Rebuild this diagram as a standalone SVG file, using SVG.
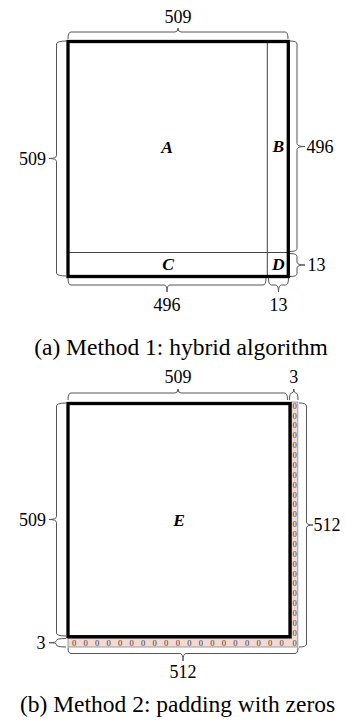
<svg xmlns="http://www.w3.org/2000/svg" width="346" height="724" viewBox="0 0 346 724" font-family="Liberation Serif">
<style>
.thick{fill:none;stroke:#000;stroke-width:3.3}
.thin{fill:none;stroke:#444;stroke-width:1}
.brace{fill:none;stroke:#555;stroke-width:1}
.num{font-size:18px;fill:#000}
.lab{font-size:17.5px;font-weight:bold;font-style:italic;fill:#000;text-anchor:middle}
.cap{font-size:23.5px;fill:#000;text-anchor:middle}
.z{font-size:8.5px;fill:#3a3a3a;text-anchor:middle}
.pad{fill:#f3d9d2;stroke:#888;stroke-width:0.8}
</style>
<rect width="346" height="724" fill="#fff"/>
<!-- Method 1 -->
<g id="A"><text class="lab" x="167" y="153" font-family="Liberation Serif">A</text></g>
<g id="B"><line class="thin" x1="267.3" y1="41.5" x2="267.3" y2="276.5"/><text class="lab" x="278.3" y="152" font-family="Liberation Serif">B</text></g>
<g id="C"><line class="thin" x1="68" y1="252.5" x2="288.3" y2="252.5"/><text class="lab" x="168" y="270" font-family="Liberation Serif">C</text></g>
<g id="D"><text class="lab" x="278.3" y="269.5" font-family="Liberation Serif">D</text></g>
<g id="matrix1"><rect class="thick" x="68" y="41.5" width="220.3" height="235"/></g>
<!-- Method 2 -->
<g id="padding">
<path class="pad" d="M291.5,402 H297.8 V647 H68 V638.5 H291.5 Z"/>
<g id="zeros" font-family="Liberation Serif">
<text class="z" x="74" y="645.6">0</text><text class="z" x="85.5" y="645.6">0</text><text class="z" x="97.1" y="645.6">0</text><text class="z" x="108.6" y="645.6">0</text><text class="z" x="120.1" y="645.6">0</text><text class="z" x="131.7" y="645.6">0</text><text class="z" x="143.2" y="645.6">0</text><text class="z" x="154.7" y="645.6">0</text><text class="z" x="166.2" y="645.6">0</text><text class="z" x="177.8" y="645.6">0</text><text class="z" x="189.3" y="645.6">0</text><text class="z" x="200.8" y="645.6">0</text><text class="z" x="212.4" y="645.6">0</text><text class="z" x="223.9" y="645.6">0</text><text class="z" x="235.4" y="645.6">0</text><text class="z" x="247" y="645.6">0</text><text class="z" x="258.5" y="645.6">0</text><text class="z" x="270" y="645.6">0</text><text class="z" x="281.5" y="645.6">0</text><text class="z" x="294.6" y="645.6">0</text>
<text class="z" x="294.6" y="635.7">0</text><text class="z" x="294.6" y="625.8">0</text><text class="z" x="294.6" y="616">0</text><text class="z" x="294.6" y="606.1">0</text><text class="z" x="294.6" y="596.2">0</text><text class="z" x="294.6" y="586.3">0</text><text class="z" x="294.6" y="576.5">0</text><text class="z" x="294.6" y="566.6">0</text><text class="z" x="294.6" y="556.7">0</text><text class="z" x="294.6" y="546.8">0</text><text class="z" x="294.6" y="537">0</text><text class="z" x="294.6" y="527.1">0</text><text class="z" x="294.6" y="517.2">0</text><text class="z" x="294.6" y="507.3">0</text><text class="z" x="294.6" y="497.5">0</text><text class="z" x="294.6" y="487.6">0</text><text class="z" x="294.6" y="477.7">0</text><text class="z" x="294.6" y="467.8">0</text><text class="z" x="294.6" y="458">0</text><text class="z" x="294.6" y="448.1">0</text><text class="z" x="294.6" y="438.2">0</text><text class="z" x="294.6" y="428.3">0</text><text class="z" x="294.6" y="418.5">0</text><text class="z" x="294.6" y="408.6">0</text>
</g>
</g>
<g id="E"><rect class="thick" x="68" y="403.5" width="222" height="233.2"/><text class="lab" x="179" y="526" font-family="Liberation Serif">E</text></g>
<!-- braces -->
<g id="connectors">
<path class="brace" d="M68,39 Q68,32 71,32 H175 Q178,32 178,28 Q178,32 181,32 H285 Q288,32 288,39"/>
<path class="brace" d="M67,41 Q56.5,41 56.5,44 V155.5 Q56.5,158.5 49,158.5 Q56.5,158.5 56.5,161.5 V273 Q56.5,276 67,276"/>
<path class="brace" d="M290,41 Q297,41 297,44 V143.5 Q297,146.5 305,146.5 Q297,146.5 297,149.5 V248.5 Q297,251.5 290,251.5"/>
<path class="brace" d="M290,253.5 Q297,253.5 297,256.5 V262 Q297,265 305,265 Q297,265 297,268 V273.5 Q297,276.5 290,276.5"/>
<path class="brace" d="M68,278 Q68,285 71,285 H164 Q167,285 167,292 Q167,285 170,285 H263 Q266,285 266,278"/>
<path class="brace" d="M268.5,278 Q268.5,285 271.5,285 H275.5 Q278.5,285 278.5,292 Q278.5,285 281.5,285 H285.5 Q288.5,285 288.5,278"/>
<path class="brace" d="M68,400 Q68,393 71,393 H175 Q178,393 178,389 Q178,393 181,393 H284.5 Q287.5,393 287.5,400"/>
<path class="brace" d="M289.5,400 Q289.5,393 291.5,393 H291.8 Q293.8,393 293.8,389 Q293.8,393 295.8,393 H296 Q298,393 298,400"/>
<path class="brace" d="M66,403 Q56.5,403 56.5,406 V516.5 Q56.5,519.5 49,519.5 Q56.5,519.5 56.5,522.5 V633 Q56.5,636 66,636"/>
<path class="brace" d="M66,638.5 Q56.5,638.5 56.5,640.5 V640.7 Q56.5,642.7 49,642.7 Q56.5,642.7 56.5,644.7 V645 Q56.5,647 66,647"/>
<path class="brace" d="M299,403 Q306.5,403 306.5,406 V522 Q306.5,525 313,525 Q306.5,525 306.5,528 V644 Q306.5,647 299,647"/>
<path class="brace" d="M68,647.5 Q68,653.5 71,653.5 H180 Q183,653.5 183,661 Q183,653.5 186,653.5 H295 Q298,653.5 298,647.5"/>
</g>
<g id="labels" font-family="Liberation Serif">
<text class="num" x="178" y="23" text-anchor="middle">509</text>
<text class="num" x="46" y="164.5" text-anchor="end">509</text>
<text class="num" x="306.5" y="152.5">496</text>
<text class="num" x="307.5" y="270.5">13</text>
<text class="num" x="167" y="310.5" text-anchor="middle">496</text>
<text class="num" x="278.5" y="310.5" text-anchor="middle">13</text>
<text class="cap" x="181" y="355">(a) Method 1: hybrid algorithm</text>
<text class="num" x="178" y="383" text-anchor="middle">509</text>
<text class="num" x="293.8" y="383" text-anchor="middle">3</text>
<text class="num" x="46" y="526" text-anchor="end">509</text>
<text class="num" x="45.5" y="648.5" text-anchor="end">3</text>
<text class="num" x="313.5" y="531">512</text>
<text class="num" x="183" y="678" text-anchor="middle">512</text>
<text class="cap" x="177.5" y="712">(b) Method 2: padding with zeros</text>
</g>
</svg>
